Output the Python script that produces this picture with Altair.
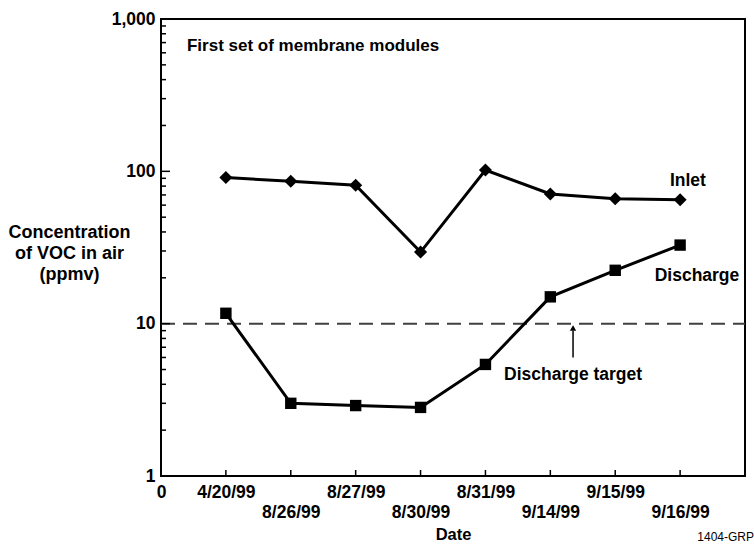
import json
import altair as alt
import pandas as pd

# ---- data ----
dates = ["4/20/99", "8/26/99", "8/27/99", "8/30/99", "8/31/99", "9/14/99", "9/15/99", "9/16/99"]
positions = [1, 2, 3, 4, 5, 6, 7, 8]
inlet = [91, 86, 81, 29.5, 102, 71, 66, 65]
discharge = [11.7, 3.0, 2.9, 2.82, 5.4, 15.0, 22.4, 32.8]
target = 10
x_labels = ["0"] + dates
y_major = [1, 10, 100, 1000]
y_minor = [m * d for d in [1, 10, 100] for m in range(2, 10)]

notes = pd.DataFrame({
    "x": [8.12, 8.26, 6.35, 0.4],
    "y": [86.4, 20.5, 4.6, 664],
    "text": ["Inlet", "Discharge", "Discharge target", "First set of membrane modules"],
    "align": ["center", "center", "center", "left"],
})

W, H = 584, 457
FONT = "Liberation Sans"

df = pd.DataFrame({"pos": positions, "date": dates, "Inlet": inlet, "Discharge": discharge})

xscale = alt.Scale(domain=[0, 9], nice=False, zero=False)
yscale = alt.Scale(type="log", domain=[1, 1000], nice=False)

arr = json.dumps(x_labels)
label_expr = (
    f"(datum.value % 2 == 0 && datum.value > 0) ? ['', {arr}[datum.value]] : {arr}[datum.value]"
)

xaxis = alt.Axis(
    values=list(range(0, 9)), labelExpr=label_expr, ticks=False, domain=False, grid=False,
    labelFont=FONT, labelFontWeight="bold", labelFontSize=17.5, labelColor="black",
    labelPadding=7, labelLineHeight=20, labelBaseline="top", labelFlush=False,
    labelOverlap=False, title="Date", titleFont=FONT, titleFontWeight="bold",
    titleFontSize=16.5, titleColor="black", titlePadding=6,
)
yaxis = alt.Axis(
    values=y_major, format=",", ticks=False, domain=False, grid=False,
    labelFont=FONT, labelFontWeight="bold", labelFontSize=17.5, labelColor="black",
    labelPadding=6, labelFlush=False, labelOverlap=False,
    title=["Concentration", "of VOC in air", "(ppmv)"], titleAngle=0,
    titleAlign="center", titleBaseline="top", titleX=-92, titleY=204,
    titleFont=FONT, titleFontWeight="bold", titleFontSize=18, titleColor="black",
    titleLineHeight=21,
)

base = alt.Chart(df)

inlet_line = base.mark_line(color="black", strokeWidth=3).encode(
    x=alt.X("pos:Q", scale=xscale, axis=xaxis),
    y=alt.Y("Inlet:Q", scale=yscale, axis=yaxis),
)
inlet_pts = base.mark_point(shape="diamond", filled=True, color="black", size=170, opacity=1).encode(
    x=alt.X("pos:Q", scale=xscale), y=alt.Y("Inlet:Q", scale=yscale)
)
dis_line = base.mark_line(color="black", strokeWidth=3).encode(
    x=alt.X("pos:Q", scale=xscale), y=alt.Y("Discharge:Q", scale=yscale)
)
dis_pts = base.mark_point(shape="square", filled=True, color="black", size=130, opacity=1).encode(
    x=alt.X("pos:Q", scale=xscale), y=alt.Y("Discharge:Q", scale=yscale)
)

target_rule = alt.Chart(pd.DataFrame({"t": [target]})).mark_rule(
    color="#404040", strokeWidth=2, strokeDash=[14, 8]
).encode(y=alt.Y("t:Q", scale=yscale), x=alt.value(0), x2=alt.value(W))

arrow = pd.DataFrame({"x": [6.35], "y1": [6.0], "y2": [9.0], "tip": [9.35]})
arrow_line = alt.Chart(arrow).mark_rule(color="black", strokeWidth=1.5).encode(
    x=alt.X("x:Q", scale=xscale), y=alt.Y("y1:Q", scale=yscale), y2="y2:Q"
)
arrow_head = alt.Chart(arrow).mark_point(shape="triangle-up", filled=True, color="black", size=40, opacity=1).encode(
    x=alt.X("x:Q", scale=xscale), y=alt.Y("tip:Q", scale=yscale)
)

xticks = alt.Chart(pd.DataFrame({"p": positions})).mark_rule(color="black", strokeWidth=1.5).encode(
    x=alt.X("p:Q", scale=xscale), y=alt.value(H), y2=alt.value(H - 6)
)
minor = alt.Chart(pd.DataFrame({"v": y_minor})).mark_rule(color="black", strokeWidth=1.5).encode(
    y=alt.Y("v:Q", scale=yscale), x=alt.value(0), x2=alt.value(5)
)
major = alt.Chart(pd.DataFrame({"v": [10, 100]})).mark_rule(color="black", strokeWidth=1.5).encode(
    y=alt.Y("v:Q", scale=yscale), x=alt.value(0), x2=alt.value(9)
)

note_center = alt.Chart(notes[notes["align"] == "center"]).mark_text(
    font=FONT, fontWeight="bold", fontSize=17.5, color="black", align="center", baseline="middle"
).encode(x=alt.X("x:Q", scale=xscale), y=alt.Y("y:Q", scale=yscale), text="text:N")
note_left = alt.Chart(notes[notes["align"] == "left"]).mark_text(
    font=FONT, fontWeight="bold", fontSize=17, color="black", align="left", baseline="middle"
).encode(x=alt.X("x:Q", scale=xscale), y=alt.Y("y:Q", scale=yscale), text="text:N")

code = alt.Chart(pd.DataFrame({"t": ["1404-GRP"]})).mark_text(
    font=FONT, fontSize=12, color="black", align="right", baseline="middle"
).encode(x=alt.value(W + 9), y=alt.value(H + 61), text="t:N")

chart = alt.layer(
    inlet_line, target_rule, dis_line, inlet_pts, dis_pts, arrow_line, arrow_head,
    xticks, minor, major, note_center, note_left, code,
).properties(
    width=W, height=H,
    padding={"left": 161, "top": 19, "right": 9, "bottom": 70},
    autosize=alt.AutoSizeParams(type="none"),
    background="white",
).configure_view(stroke="black", strokeWidth=2)

chart.save("out.html", embed_options={"renderer": "svg", "actions": False})
